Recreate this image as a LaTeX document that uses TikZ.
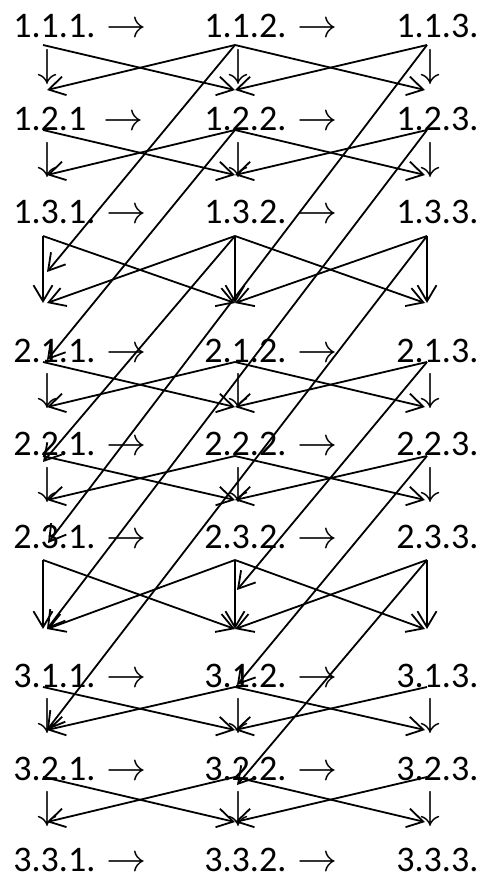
\documentclass[tikz,border=0pt]{standalone}
\usepackage{fontspec}
\usepackage{unicode-math}
\setmainfont{Carlito}
\usetikzlibrary{arrows.meta}
\newcommand{\nextarr}{{\fontsize{20}{20}\selectfont$\rightarrow$}}
\tikzset{
    statelbl/.style={anchor=base west, inner sep=0pt, font=\fontsize{18}{18}\selectfont},
    downglyph/.style={inner sep=0pt, font=\fontsize{20}{20}\selectfont},
    movearrow/.style={-{Straight Barb[length=8pt,width=9.5pt]}, line width=0.9pt}
}

\begin{document}
\begin{tikzpicture}[x=0.5pt, y=-0.5pt]
\useasboundingbox (0,0) rectangle (482,878);
% state labels, three groups of three rows
\node[statelbl] (n111) at (13,37) {1.1.1. \nextarr};
\node[statelbl] (n112) at (204,37) {1.1.2. \nextarr};
\node[statelbl] (n113) at (396,37) {1.1.3.};
\node[statelbl] (n121) at (13,130) {1.2.1\phantom{.} \nextarr};
\node[statelbl] (n122) at (204,130) {1.2.2. \nextarr};
\node[statelbl] (n123) at (396,130) {1.2.3.};
\node[statelbl] (n131) at (13,223) {1.3.1. \nextarr};
\node[statelbl] (n132) at (204,223) {1.3.2. \nextarr};
\node[statelbl] (n133) at (396,223) {1.3.3.};
\node[statelbl] (n211) at (13,362) {2.1.1. \nextarr};
\node[statelbl] (n212) at (204,362) {2.1.2. \nextarr};
\node[statelbl] (n213) at (396,362) {2.1.3.};
\node[statelbl] (n221) at (13,455) {2.2.1. \nextarr};
\node[statelbl] (n222) at (204,455) {2.2.2. \nextarr};
\node[statelbl] (n223) at (396,455) {2.2.3.};
\node[statelbl] (n231) at (13,548) {2.3.1. \nextarr};
\node[statelbl] (n232) at (204,548) {2.3.2. \nextarr};
\node[statelbl] (n233) at (396,548) {2.3.3.};
\node[statelbl] (n311) at (13,687) {3.1.1. \nextarr};
\node[statelbl] (n312) at (204,687) {3.1.2. \nextarr};
\node[statelbl] (n313) at (396,687) {3.1.3.};
\node[statelbl] (n321) at (13,780) {3.2.1. \nextarr};
\node[statelbl] (n322) at (204,780) {3.2.2. \nextarr};
\node[statelbl] (n323) at (396,780) {3.2.3.};
\node[statelbl] (n331) at (13,871) {3.3.1. \nextarr};
\node[statelbl] (n332) at (204,871) {3.3.2. \nextarr};
\node[statelbl] (n333) at (396,871) {3.3.3.};

% where lines leave (o) and arrive (i) for every state
\foreach \s/\yo/\yi in {11/45/0, 12/130/90, 13/236/175, 21/362/303,
        22/456/407, 23/560/500, 31/687/629, 32/777/730, 33/0/822} {
    \coordinate (o\s1) at (43,\yo);
    \coordinate (o\s2) at (235,\yo);
    \coordinate (o\s3) at (427,\yo);
    \coordinate (i\s1) at (47,\yi);
    \coordinate (i\s2) at (235,\yi);
    \coordinate (i\s3) at (425,\yi);
}

% down glyphs inside a group
\foreach \s/\y in {11/67, 12/160, 21/391, 22/485, 31/716, 32/809} {
    \node[downglyph] (d\s1) at (47,\y) {$\downarrow$};
    \node[downglyph] (d\s2) at (238,\y) {$\downarrow$};
    \node[downglyph] (d\s3) at (430,\y) {$\downarrow$};
}

% crossing moves to the next row
\foreach \a/\b in {11/12, 12/13, 13/21, 21/22, 22/23, 23/31, 31/32, 32/33} {
    \draw[movearrow] (o\a1) -- (i\b2);
    \draw[movearrow] (o\a2) -- (i\b1);
    \draw[movearrow] (o\a2) -- (i\b3);
    \draw[movearrow] (o\a3) -- (i\b2);
}
% straight down into the next group
\foreach \a/\b in {13/21, 23/31}
    \foreach \k in {1,2,3}
        \draw[movearrow] (o\a\k) -- (o\a\k |- i\b\k);

% long jumps
\coordinate (l112) at (47,272);
\coordinate (l122) at (47,360);
\coordinate (l132) at (43,462);
\coordinate (l113) at (48,543);
\coordinate (l213) at (237,590);
\coordinate (l223) at (237,685);
\coordinate (l233) at (237,785);
\draw[movearrow] (o112) -- (l112);
\draw[movearrow] (o122) -- (l122);
\draw[movearrow] (o132) -- (l132);
\draw[movearrow] (o113) -- (l113);
\draw[movearrow] (o123) -- (i311);
\draw[movearrow] (o133) -- (i321);
\draw[movearrow] (o213) -- (l213);
\draw[movearrow] (o223) -- (l223);
\draw[movearrow] (o233) -- (l233);
\end{tikzpicture}
\end{document}
